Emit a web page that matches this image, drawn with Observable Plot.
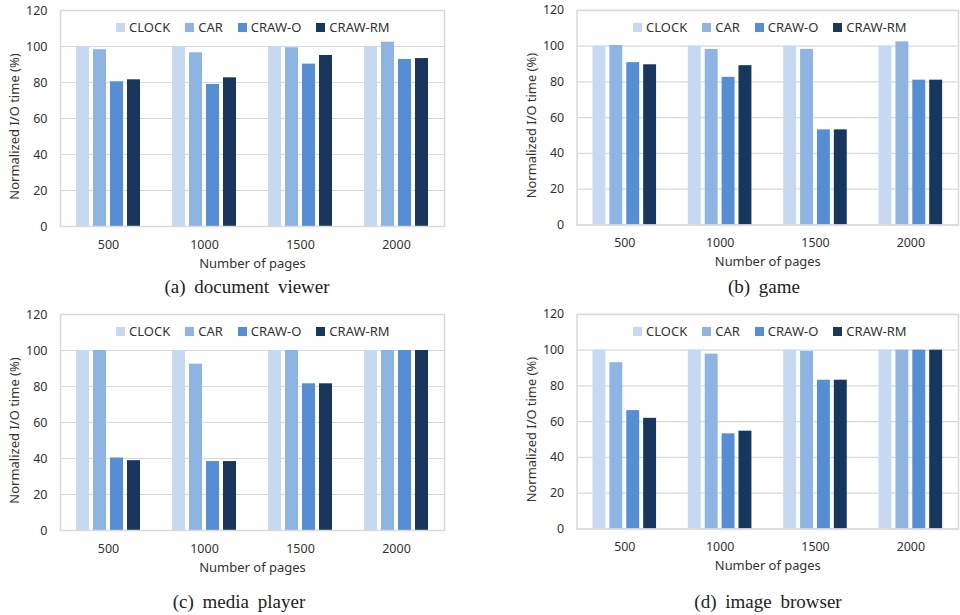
<!DOCTYPE html>
<html>
<head>
<meta charset="utf-8">
<script src="https://cdn.jsdelivr.net/npm/d3@7"></script>
<script src="https://cdn.jsdelivr.net/npm/@observablehq/plot@0.6"></script>
<style>
  body { margin: 0; background: #fff; }
  #root { position: relative; width: 960px; height: 615px; overflow: hidden; font-family: "Noto Sans", sans-serif; }
  .panel { position: absolute; }
  .legend { position: absolute; display: flex; align-items: center; font-size: 13px; color: #333; line-height: 18px; white-space: nowrap; }
  .legend .item { display: flex; align-items: center; margin-right: 15px; }
  .legend .sw { width: 9px; height: 9px; margin-right: 4px; }
  .caption { position: absolute; transform: translateX(-50%); font-family: "Liberation Serif", "DejaVu Serif", serif; font-size: 19px; line-height: 22px; color: #222; word-spacing: 4px; white-space: nowrap; }
</style>
</head>
<body>
<div id="root"></div>
<script>
// ---- data ----
const pages = ["500", "1000", "1500", "2000"];
const series = ["CLOCK", "CAR", "CRAW-O", "CRAW-RM"];
const seriesColors = ["#c6d9f1", "#8eb4e3", "#558ed5", "#17375e"];
const yTicks = [0, 20, 40, 60, 80, 100, 120];

// rows = pages, columns = series (CLOCK, CAR, CRAW-O, CRAW-RM)
const documentViewer = [
  [100, 98.2, 80.4, 81.5],
  [100, 96.5, 78.9, 82.6],
  [100, 99.3, 90.2, 95.0],
  [100, 102.4, 92.8, 93.3]
];
const game = [
  [100, 100.4, 90.8, 89.6],
  [100, 98.2, 82.6, 89.1],
  [100, 98.2, 53.2, 53.2],
  [100, 102.4, 81.0, 81.0]
];
const mediaPlayer = [
  [100, 100, 40.3, 38.8],
  [100, 92.4, 38.3, 38.3],
  [100, 100, 81.5, 81.5],
  [100, 100, 100, 100]
];
const imageBrowser = [
  [100, 93.0, 66.2, 61.9],
  [100, 97.8, 53.2, 54.7],
  [100, 99.3, 83.2, 83.2],
  [100, 100, 100, 100]
];
const captions = ["(a) document viewer", "(b) game", "(c) media player", "(d) image browser"];
const yLabel = "Normalized I/O time (%)";
const xLabel = "Number of pages";

// ---- layout ----
const panels = [
  {values: documentViewer, left: 0, top: 0, capX: 247, capY: 276},
  {values: game, left: 517, top: 0, capX: 764, capY: 276},
  {values: mediaPlayer, left: 0, top: 304, capX: 239, capY: 591},
  {values: imageBrowser, left: 517, top: 304, capX: 768, capY: 591}
];

function makePlot(values) {
  const data = pages.flatMap((p, i) => series.map((s, j) => ({page: p, series: s, value: values[i][j]})));
  return Plot.plot({
    width: 446, height: 272,
    marginLeft: 60, marginRight: 2, marginTop: 10, marginBottom: 46,
    style: {fontFamily: '"Noto Sans", sans-serif', fontSize: "12.5px", color: "#333", background: "transparent", overflow: "visible"},
    fx: {domain: pages, padding: 0, axis: null},
    x: {domain: series, paddingInner: 0.22, paddingOuter: 0.885, axis: null},
    y: {domain: [0, 120]},
    color: {domain: series, range: seriesColors},
    marks: [
      Plot.gridY(yTicks, {stroke: "#d9d9d9", strokeOpacity: 1, strokeWidth: 1.2}),
      Plot.barY(data, {fx: "page", x: "series", y: "value", fill: "series"}),
      Plot.frame({facet: "super", stroke: "#d9d9d9", strokeWidth: 1.5}),
      Plot.axisY(yTicks, {tickSize: 0, tickPadding: 13, label: null, fontSize: 12.5}),
      Plot.text([yLabel], {facet: "super", text: (d) => d, frameAnchor: "left", textAnchor: "middle", rotate: -90, dx: -46, dy: 8, fontSize: 13}),
      Plot.text(pages, {fx: (d) => d, text: (d) => d, frameAnchor: "bottom", dy: 22, fontSize: 12.5}),
      Plot.text([xLabel], {facet: "super", text: (d) => d, frameAnchor: "bottom", dy: 41, fontSize: 13})
    ]
  });
}

const root = d3.select("#root");
panels.forEach((p, k) => {
  const div = root.append("div").attr("class", "panel").style("left", p.left + "px").style("top", p.top + "px");
  div.node().appendChild(makePlot(p.values));
  const lg = root.append("div").attr("class", "legend")
    .style("left", (p.left + 116) + "px").style("top", (p.top + 18) + "px");
  series.forEach((s, j) => {
    const it = lg.append("div").attr("class", "item");
    it.append("div").attr("class", "sw").style("background", seriesColors[j]);
    it.append("span").text(s);
  });
  root.append("div").attr("class", "caption")
    .style("left", p.capX + "px").style("top", p.capY + "px").text(captions[k]);
});
</script>
</body>
</html>
